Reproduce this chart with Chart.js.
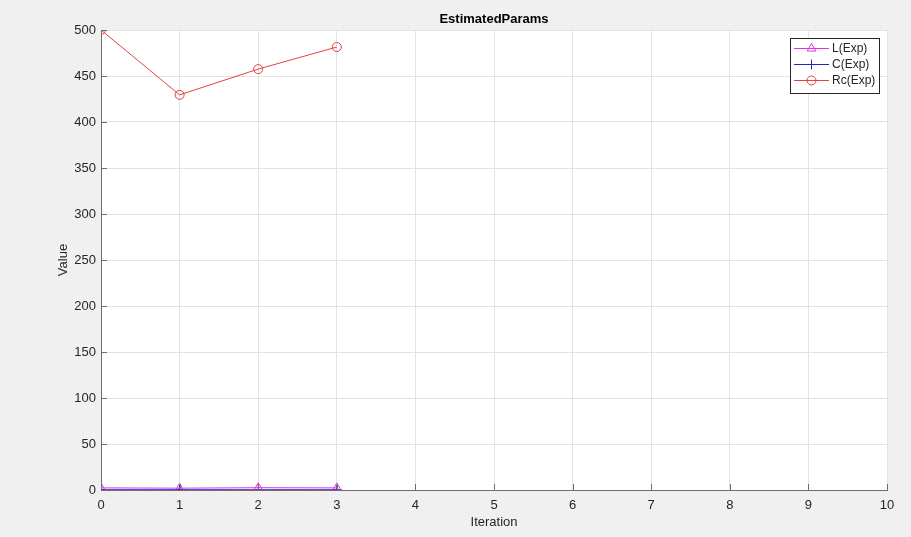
<!DOCTYPE html>
<html>
<head>
<meta charset="utf-8">
<script src="https://cdn.jsdelivr.net/npm/chart.js@4/dist/chart.umd.min.js"></script>
<style>
  html, body { margin: 0; padding: 0; background: #f0f0f0; }
  #wrap { width: 911px; height: 537px; }
</style>
</head>
<body>
<div id="wrap"><canvas id="grafico"></canvas></div>
<script>
// data
const iteracoes = [0, 1, 2, 3];
const valoresL = [2.3, 2.0, 2.5, 2.3];
const valoresC = [0.3, 0.3, 0.3, 0.3];
const valoresRc = [500, 429.5, 457.5, 481.5];
const ticksX = [0, 1, 2, 3, 4, 5, 6, 7, 8, 9, 10];
const ticksY = [0, 50, 100, 150, 200, 250, 300, 350, 400, 450, 500];

const FONTE = '"Liberation Sans", Arial, Helvetica, sans-serif';
const COR_TEXTO = '#262626';

function pares(valores) {
    return iteracoes.map((x, i) => ({ x: x, y: valores[i] }));
}

// white axes area and MATLAB style inward ticks, titles and legend
const estiloMatlab = {
    id: 'estiloMatlab',
    beforeDraw(chart) {
        const { ctx, chartArea: a } = chart;
        ctx.save();
        ctx.fillStyle = '#f0f0f0';
        ctx.fillRect(0, 0, chart.width, chart.height);
        ctx.fillStyle = '#ffffff';
        ctx.fillRect(a.left, a.top, a.right - a.left, a.bottom - a.top);
        ctx.restore();
    },
    afterDraw(chart) {
        const { ctx, chartArea: a, scales } = chart;
        ctx.save();
        // inward ticks
        ctx.strokeStyle = '#6e6e6e';
        ctx.lineWidth = 1;
        ctx.beginPath();
        ticksX.forEach(t => {
            const px = Math.round(scales.x.getPixelForValue(t)) + 0.5;
            ctx.moveTo(px, a.bottom);
            ctx.lineTo(px, a.bottom - 6);
        });
        ticksY.forEach(t => {
            const py = Math.round(scales.y.getPixelForValue(t)) + 0.5;
            ctx.moveTo(a.left, py);
            ctx.lineTo(a.left + 6, py);
        });
        ctx.stroke();

        // titles
        ctx.fillStyle = '#000000';
        ctx.textAlign = 'center';
        ctx.textBaseline = 'middle';
        ctx.font = 'bold 13px ' + FONTE;
        ctx.fillText('EstimatedParams', (a.left + a.right) / 2, 19);
        ctx.fillStyle = COR_TEXTO;
        ctx.font = '13px ' + FONTE;
        ctx.fillText('Iteration', (a.left + a.right) / 2, 522);
        ctx.translate(63, (a.top + a.bottom) / 2);
        ctx.rotate(-Math.PI / 2);
        ctx.fillText('Value', 0, 0);
        ctx.restore();

        // legend box
        ctx.save();
        const bx = 790.5, by = 38.5, bw = 89, bh = 55;
        ctx.fillStyle = '#ffffff';
        ctx.fillRect(bx, by, bw, bh);
        ctx.strokeStyle = '#262626';
        ctx.lineWidth = 1;
        ctx.strokeRect(bx, by, bw, bh);
        ctx.font = '12px ' + FONTE;
        ctx.textAlign = 'left';
        ctx.textBaseline = 'middle';
        chart.data.datasets.forEach((ds, i) => {
            const ly = 48 + i * 16;
            ctx.strokeStyle = ds.borderColor;
            ctx.lineWidth = 1;
            ctx.beginPath();
            ctx.moveTo(794, ly + 0.5);
            ctx.lineTo(829, ly + 0.5);
            ctx.stroke();
            ctx.fillStyle = 'rgba(0,0,0,0)';
            Chart.helpers.drawPoint(ctx, {
                pointStyle: ds.pointStyle,
                radius: ds.pointRadius,
                borderWidth: 1,
                rotation: 0
            }, 811.5, ly + 0.5);
            ctx.fillStyle = COR_TEXTO;
            ctx.fillText(ds.label, 832, ly + 1);
        });
        ctx.restore();
    }
};

function initCharts() {
    const ctx = document.getElementById('grafico').getContext('2d');
    const serie = (label, valores, cor, estilo, raio) => ({
        label: label,
        data: pares(valores),
        borderColor: cor,
        backgroundColor: 'rgba(0,0,0,0)',
        borderWidth: 1,
        pointStyle: estilo,
        pointRadius: raio,
        pointBorderColor: cor,
        pointBackgroundColor: 'rgba(0,0,0,0)',
        pointBorderWidth: 1,
        tension: 0
    });

    window.graficoParams = new Chart(ctx, {
        type: 'line',
        data: {
            datasets: [
                serie('L(Exp)', valoresL, '#e033e0', 'triangle', 5),
                serie('C(Exp)', valoresC, '#2222cc', 'cross', 5),
                serie('Rc(Exp)', valoresRc, '#e84040', 'circle', 4.5)
            ]
        },
        options: {
            responsive: true,
            maintainAspectRatio: false,
            animation: false,
            devicePixelRatio: 1,
            layout: { padding: { top: 30, right: 24, left: 0, bottom: 0 } },
            plugins: {
                legend: { display: false },
                tooltip: { enabled: false }
            },
            scales: {
                x: {
                    type: 'linear',
                    min: 0,
                    max: 10,
                    afterFit(scale) { scale.height = 47; },
                    afterBuildTicks(scale) { scale.ticks = ticksX.map(v => ({ value: v })); },
                    grid: { color: '#e3e3e3', drawTicks: false },
                    border: { color: '#6e6e6e', width: 1 },
                    ticks: {
                        padding: 8,
                        color: COR_TEXTO,
                        font: { family: FONTE, size: 13 },
                        maxRotation: 0
                    }
                },
                y: {
                    type: 'linear',
                    min: 0,
                    max: 500,
                    afterFit(scale) { scale.width = 101; },
                    afterBuildTicks(scale) { scale.ticks = ticksY.map(v => ({ value: v })); },
                    grid: { color: '#e3e3e3', drawTicks: false },
                    border: { color: '#6e6e6e', width: 1 },
                    ticks: {
                        padding: 5,
                        color: COR_TEXTO,
                        font: { family: FONTE, size: 13 }
                    }
                }
            }
        },
        plugins: [estiloMatlab]
    });
}

document.addEventListener('DOMContentLoaded', initCharts);
</script>
</body>
</html>
